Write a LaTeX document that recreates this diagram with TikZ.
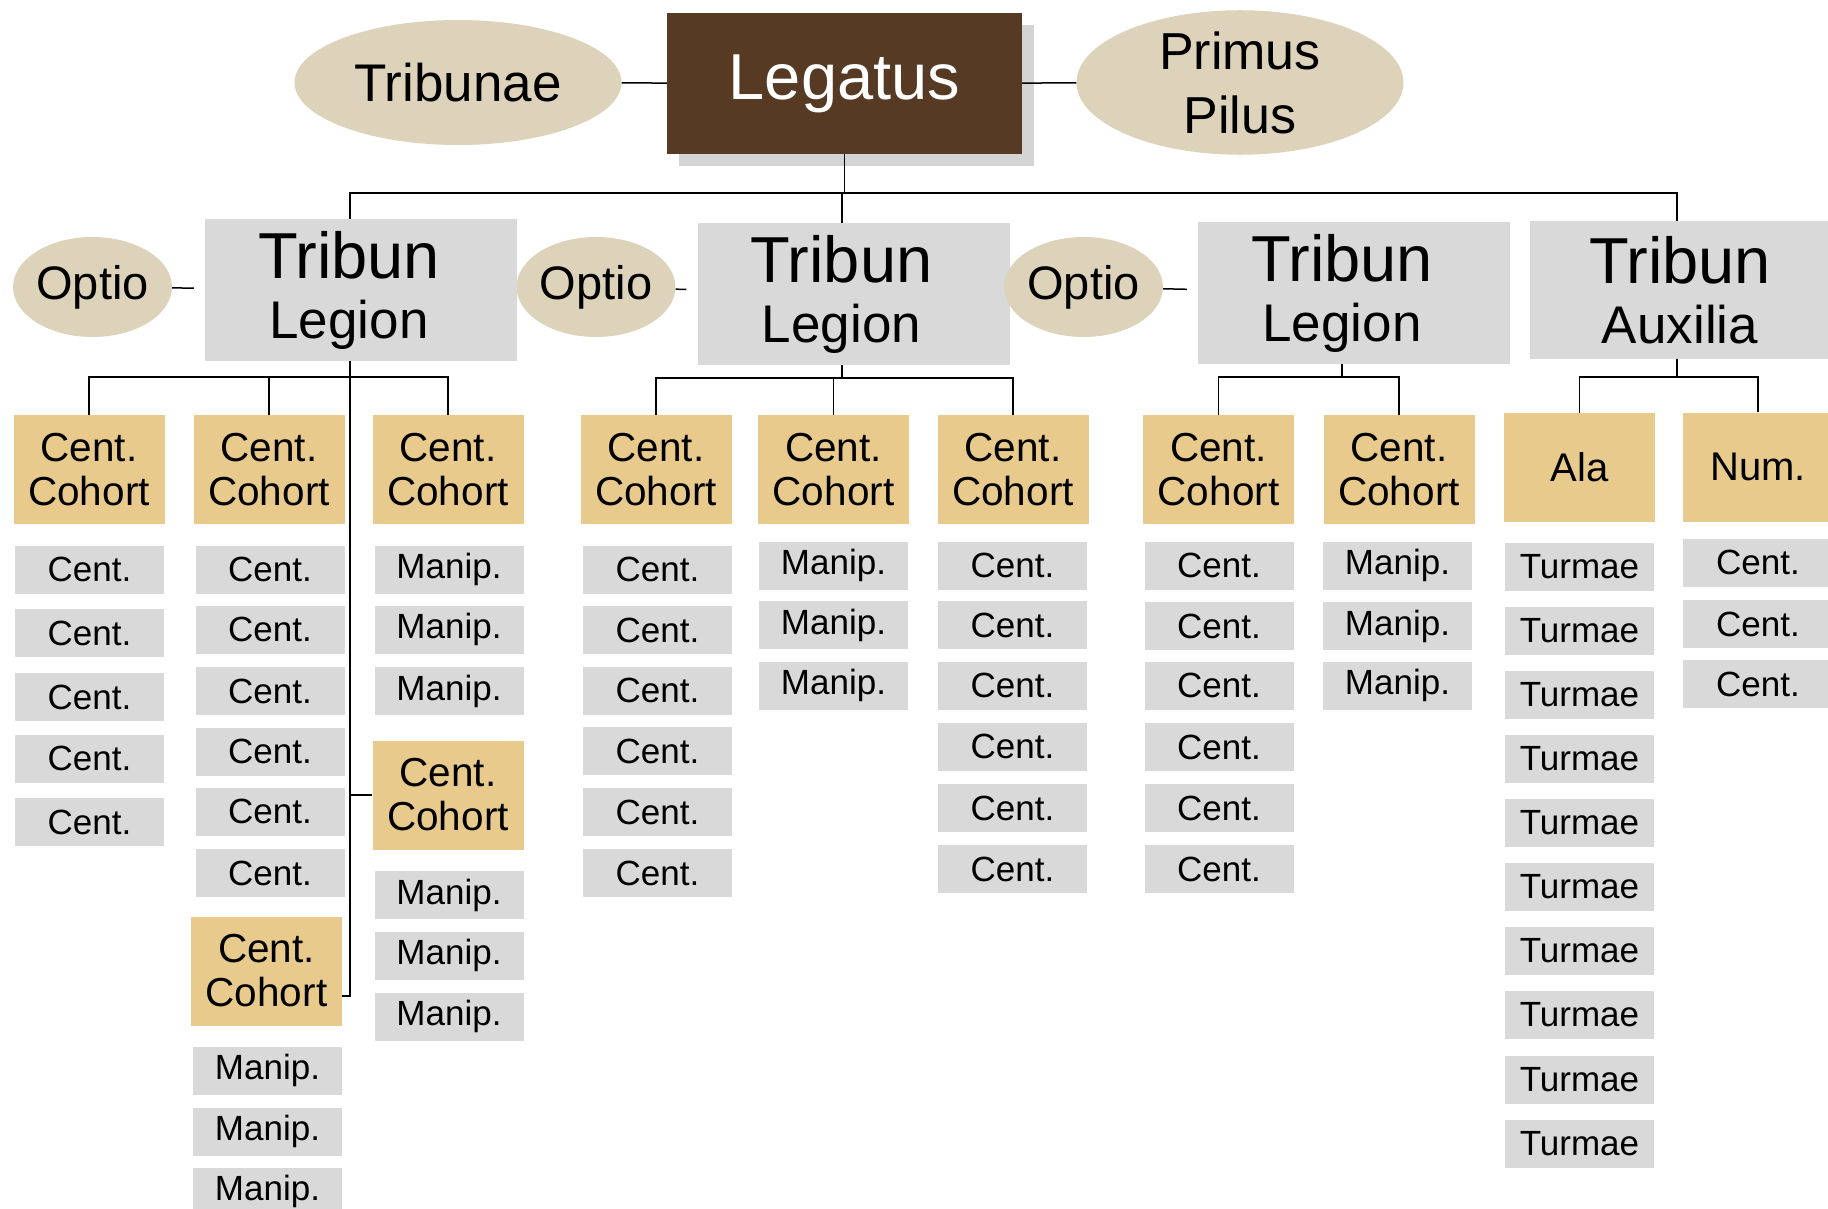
\documentclass[tikz,border=0pt]{standalone}
\usepackage{fontspec}
\setmainfont{Liberation Sans}
\usepackage{tikz}
\usetikzlibrary{shapes,shadows}

\definecolor{boxgray}{HTML}{D9D9D9}
\definecolor{papyrus}{HTML}{E9CA8D}
\definecolor{linen}{HTML}{DDD2BA}
\definecolor{bark}{HTML}{573A24}
\newcommand{\TribunText}{{\fontsize{65}{60}\selectfont Tribun}\hspace*{24pt}}
\newcommand{\PadRight}{\hspace*{24pt}}

\begin{document}
\begin{tikzpicture}[x=1pt,y=-1pt]
			\tikzstyle{Boss}	= [rectangle, fill=bark, text=white, minimum width=355pt, minimum height=141pt, inner sep=0pt, font=\fontsize{65}{70}\selectfont, drop shadow={shadow xshift=12pt, shadow yshift=-12pt, fill=black!17, opacity=1}]
			\tikzstyle{Oval}	= [ellipse, fill=linen, minimum width=327pt, minimum height=125pt, inner sep=0pt, font=\fontsize{53}{64}\selectfont, align=center]
			\tikzstyle{Optio}	= [Oval, minimum width=147pt, minimum height=100pt, font=\fontsize{47}{50}\selectfont]
			\tikzstyle{Tribun}	= [rectangle, fill=boxgray, minimum width=312pt, minimum height=142pt, inner sep=0pt, align=center, font=\fontsize{53}{60}\selectfont]
			\tikzstyle{Cohort}	= [rectangle, fill=papyrus, minimum width=151pt, minimum height=109pt, inner sep=0pt, align=center, font=\fontsize{40.5}{44}\selectfont]
			\tikzstyle{Unit}	= [rectangle, fill=boxgray, minimum width=149pt, minimum height=48pt, inner sep=0pt, font=\fontsize{35}{40}\selectfont]
			\tikzstyle{Link}	= [line width=1.5pt, black]
			\tikzstyle{OptLink}	= [Link, shorten >=11pt]

			\useasboundingbox (0,0) rectangle (1828,1209);
			\clip (0,0) rectangle (1828,1209);

			\node (leg) at (844.5,83.5) [Boss] {Legatus};
			\node (trb) at (458,82.5) [Oval] {Tribunae};
			\node (pp) at (1240,82.5) [Oval, font=\fontsize{52}{64}\selectfont] {Primus\\Pilus};

			\node (tl1) at (361,290) [Tribun] {\TribunText\\Legion\PadRight};
			\node (tl2) at (853.5,294) [Tribun] {\TribunText\\Legion\PadRight};
			\node (tl3) at (1354,293) [Tribun] {\TribunText\\Legion\PadRight};
			\node (ta) at (1680,290) [Tribun, minimum width=300pt, minimum height=137pt] {{\fontsize{65}{60}\selectfont Tribun}\\Auxilia};
			\node (o1) at (92.5,287) [Optio] {Optio};
			\node (o2) at (596,287) [Optio] {Optio};
			\node (o3) at (1083.5,287) [Optio] {Optio};

			\node (k1) at (89,469.5) [Cohort] {Cent.\\Cohort};
			\node (k2) at (269,469.5) [Cohort] {Cent.\\Cohort};
			\node (k3) at (448,469.5) [Cohort] {Cent.\\Cohort};
			\node (k4) at (266.5,971) [Cohort] {Cent.\\Cohort};
			\node (k5) at (448,795) [Cohort] {Cent.\\Cohort};
			\node (k6) at (656,469.5) [Cohort] {Cent.\\Cohort};
			\node (k7) at (833.5,469.5) [Cohort] {Cent.\\Cohort};
			\node (k8) at (1013,469.5) [Cohort] {Cent.\\Cohort};
			\node (k9) at (1218.5,469.5) [Cohort] {Cent.\\Cohort};
			\node (k10) at (1399,469.5) [Cohort] {Cent.\\Cohort};
			\node (ala) at (1579.5,467.5) [Cohort, font=\fontsize{40}{44}\selectfont] {Ala};
			\node (num) at (1758,467) [Cohort, minimum width=150pt, font=\fontsize{40}{44}\selectfont] {Num.};

			\node (a1) at (89.5,569.5) [Unit] {Cent.};
			\node (a2) at (89.5,633) [Unit] {Cent.};
			\node (a3) at (89.5,697) [Unit] {Cent.};
			\node (a4) at (89.5,758.5) [Unit] {Cent.};
			\node (a5) at (89.5,822) [Unit] {Cent.};

			\node (b1) at (270,569.5) [Unit] {Cent.};
			\node (b2) at (270,629.5) [Unit] {Cent.};
			\node (b3) at (270,691) [Unit] {Cent.};
			\node (b4) at (270,751.5) [Unit] {Cent.};
			\node (b5) at (270,811.5) [Unit] {Cent.};
			\node (b6) at (270,873) [Unit] {Cent.};
			\node (b7) at (267.5,1070.5) [Unit] {Manip.};
			\node (b8) at (267.5,1131.5) [Unit] {Manip.};
			\node (b9) at (267.5,1191.5) [Unit] {Manip.};

			\node (c1) at (449,569.5) [Unit] {Manip.};
			\node (c2) at (449,629.5) [Unit] {Manip.};
			\node (c3) at (449,691) [Unit] {Manip.};
			\node (c4) at (449,895) [Unit] {Manip.};
			\node (c5) at (449,955.5) [Unit] {Manip.};
			\node (c6) at (449,1016.5) [Unit] {Manip.};

			\node (d1) at (657.5,569.5) [Unit] {Cent.};
			\node (d2) at (657.5,630) [Unit] {Cent.};
			\node (d3) at (657.5,690.5) [Unit] {Cent.};
			\node (d4) at (657.5,751) [Unit] {Cent.};
			\node (d5) at (657.5,812) [Unit] {Cent.};
			\node (d6) at (657.5,873) [Unit] {Cent.};

			\node (e1) at (833.5,565.5) [Unit] {Manip.};
			\node (e2) at (833.5,625) [Unit] {Manip.};
			\node (e3) at (833.5,685.5) [Unit] {Manip.};

			\node (f1) at (1012.5,565.5) [Unit] {Cent.};
			\node (f2) at (1012.5,625) [Unit] {Cent.};
			\node (f3) at (1012.5,685.5) [Unit] {Cent.};
			\node (f4) at (1012.5,746.5) [Unit] {Cent.};
			\node (f5) at (1012.5,808) [Unit] {Cent.};
			\node (f6) at (1012.5,869) [Unit] {Cent.};

			\node (g1) at (1219,565.5) [Unit] {Cent.};
			\node (g2) at (1219,626) [Unit] {Cent.};
			\node (g3) at (1219,685.5) [Unit] {Cent.};
			\node (g4) at (1219,747) [Unit] {Cent.};
			\node (g5) at (1219,808) [Unit] {Cent.};
			\node (g6) at (1219,869) [Unit] {Cent.};

			\node (h1) at (1397.5,565.5) [Unit] {Manip.};
			\node (h2) at (1397.5,626) [Unit] {Manip.};
			\node (h3) at (1397.5,685.5) [Unit] {Manip.};

			\node (t1) at (1579.5,567) [Unit] {Turmae};
			\node (t2) at (1579.5,630.5) [Unit] {Turmae};
			\node (t3) at (1579.5,694.5) [Unit] {Turmae};
			\node (t4) at (1579.5,758.5) [Unit] {Turmae};
			\node (t5) at (1579.5,823) [Unit] {Turmae};
			\node (t6) at (1579.5,887) [Unit] {Turmae};
			\node (t7) at (1579.5,951) [Unit] {Turmae};
			\node (t8) at (1579.5,1015) [Unit] {Turmae};
			\node (t9) at (1579.5,1079.5) [Unit] {Turmae};
			\node (t10) at (1579.5,1144) [Unit] {Turmae};

			\node (n1) at (1758,562.5) [Unit, minimum width=150pt] {Cent.};
			\node (n2) at (1758,624) [Unit, minimum width=150pt] {Cent.};
			\node (n3) at (1758,684) [Unit, minimum width=150pt] {Cent.};

			\coordinate (bus0) at (844.5,193);
			\coordinate (bus1) at (350,377);
			\coordinate (bus2) at (842,378);
			\coordinate (bus3) at (1342,377);
			\coordinate (bus4) at (1677,377);

			\draw [Link] (trb) -- (leg);
			\draw [Link] (leg) -- (pp);
			\draw [Link] (leg) -- (bus0);
			\draw [Link] (bus0) -| (tl1.north -| bus1);
			\draw [Link] (bus0) -| (tl2.north -| bus2);
			\draw [Link] (bus0) -| (ta.north -| bus4);
			\draw [OptLink] (o1) -- (tl1);
			\draw [OptLink] (o2) -- (tl2);
			\draw [OptLink] (o3) -- (tl3);

			\draw [Link] (tl1.south -| bus1) -- (bus1);
			\draw [Link] (bus1) -| (k1);
			\draw [Link] (bus1) -| (k2);
			\draw [Link] (bus1) -| (k3);
			\draw [Link] (bus1) |- (k5);
			\draw [Link] (bus1) |- ([yshift=-25pt]k4.east);

			\draw [Link] (tl2.south -| bus2) -- (bus2);
			\draw [Link] (bus2) -| (k6);
			\draw [Link] (bus2) -| (k7);
			\draw [Link] (bus2) -| (k8);

			\draw [Link] (tl3.south -| bus3) -- (bus3);
			\draw [Link] (bus3) -| (k9);
			\draw [Link] (bus3) -| (k10);

			\draw [Link] (ta.south -| bus4) -- (bus4);
			\draw [Link] (bus4) -| (ala);
			\draw [Link] (bus4) -| (num);
\end{tikzpicture}
\end{document}
